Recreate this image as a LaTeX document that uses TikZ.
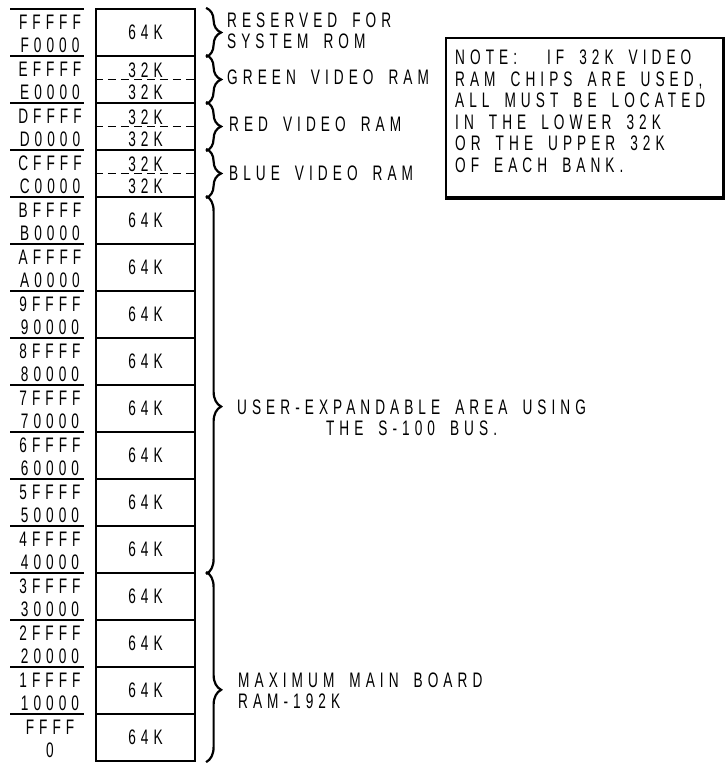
\documentclass[tikz,border=0pt]{standalone}
\usepackage{fontspec}
\newfontfamily\mapfont[FakeStretch=0.65,LetterSpace=24,WordSpace=1.7]{Liberation Sans}
\usetikzlibrary{decorations.pathreplacing}

\begin{document}
\begin{tikzpicture}[x=1pt,y=-1pt,
  lbl/.style={font=\mapfont\fontsize{21}{21.5}\selectfont,inner sep=0pt},
  halfk/.style={font=\mapfont\fontsize{21}{21}\selectfont,inner sep=0pt,anchor=base},
  bank/.style={draw,line width=2.2pt,minimum width=99pt,minimum height=47pt,inner sep=0pt},
  rule/.style={line width=2pt},
  grp/.style={decorate,decoration={brace,amplitude=15pt},line width=2.2pt}]
  \useasboundingbox (0,0) rectangle (724,763);

  % banks and addresses
  \foreach \i/\hi/\lo in {0/FFFFF/F0000,1/EFFFF/E0000,2/DFFFF/D0000,3/CFFFF/C0000,
      4/BFFFF/B0000,5/AFFFF/A0000,6/9FFFF/90000,7/8FFFF/80000,8/7FFFF/70000,
      9/6FFFF/60000,10/5FFFF/50000,11/4FFFF/40000,12/3FFFF/30000,
      13/2FFFF/20000,14/1FFFF/10000,15/FFFF/0} {
    \node[bank] (b\i) at (145.5,{32.5+47*\i}) {};
    \node[lbl] (hi\i) at (50,{22+47*\i}) {\hi};
    \node[lbl] (lo\i) at (50,{45+47*\i}) {\lo};
    \draw[rule] (10,{9+47*\i}) -- (84,{9+47*\i});
  }
  \foreach \i in {0,4,5,...,15}
    \node[lbl] (k\i) at (b\i) {64K};
  \foreach \i in {1,2,3} {
    \draw[line width=1.8pt,dash pattern=on 8pt off 5pt] (b\i.west) -- (b\i.east);
    \node[halfk] (up\i) at ([yshift=2.5pt]b\i.center) {32K};
    \node[halfk] (dn\i) at ([yshift=-19.5pt]b\i.center) {32K};
  }

  % braces
  \draw[grp] ([xshift=10pt]b0.north east) -- ([xshift=10pt]b0.south east);
  \draw[grp] ([xshift=10pt]b1.north east) -- ([xshift=10pt]b1.south east);
  \draw[grp] ([xshift=10pt]b2.north east) -- ([xshift=10pt]b2.south east);
  \draw[grp] ([xshift=10pt]b3.north east) -- ([xshift=10pt]b3.south east);
  \draw[grp,decoration={aspect=0.557}] ([xshift=10pt]b4.north east) -- ([xshift=10pt]b11.south east);
  \draw[grp,decoration={aspect=0.62}] ([xshift=10pt]b12.north east) -- ([xshift=10pt]b15.south east);

  \node[lbl,anchor=west,align=left] (rom) at (227,31) {RESERVED FOR\\SYSTEM ROM};
  \node[lbl,anchor=west] (green) at (227,77) {GREEN VIDEO RAM};
  \node[lbl,anchor=west] (red) at (229,124) {RED VIDEO RAM};
  \node[lbl,anchor=west] (blue) at (229,173) {BLUE VIDEO RAM};
  \node[lbl,anchor=west,align=center] (user) at (237,418) {USER-EXPANDABLE AREA USING\\THE S-100 BUS.};
  \node[lbl,anchor=west,align=left] (main) at (238,691) {MAXIMUM MAIN BOARD\\RAM-192K};

  % note
  \node[draw,line width=2pt,anchor=north west,minimum width=277pt,minimum height=159pt] (note) at (445,37) {};
  \draw[line width=4.5pt] (note.south west) -- (note.south east) -- (note.north east);
  \node[lbl,anchor=north west,align=left] (notetext) at (455,50)
    {NOTE:\ \ IF 32K VIDEO\\RAM CHIPS ARE USED,\\ALL MUST BE LOCATED\\IN THE LOWER 32K\\OR THE UPPER 32K\\OF EACH BANK.};
\end{tikzpicture}
\end{document}
